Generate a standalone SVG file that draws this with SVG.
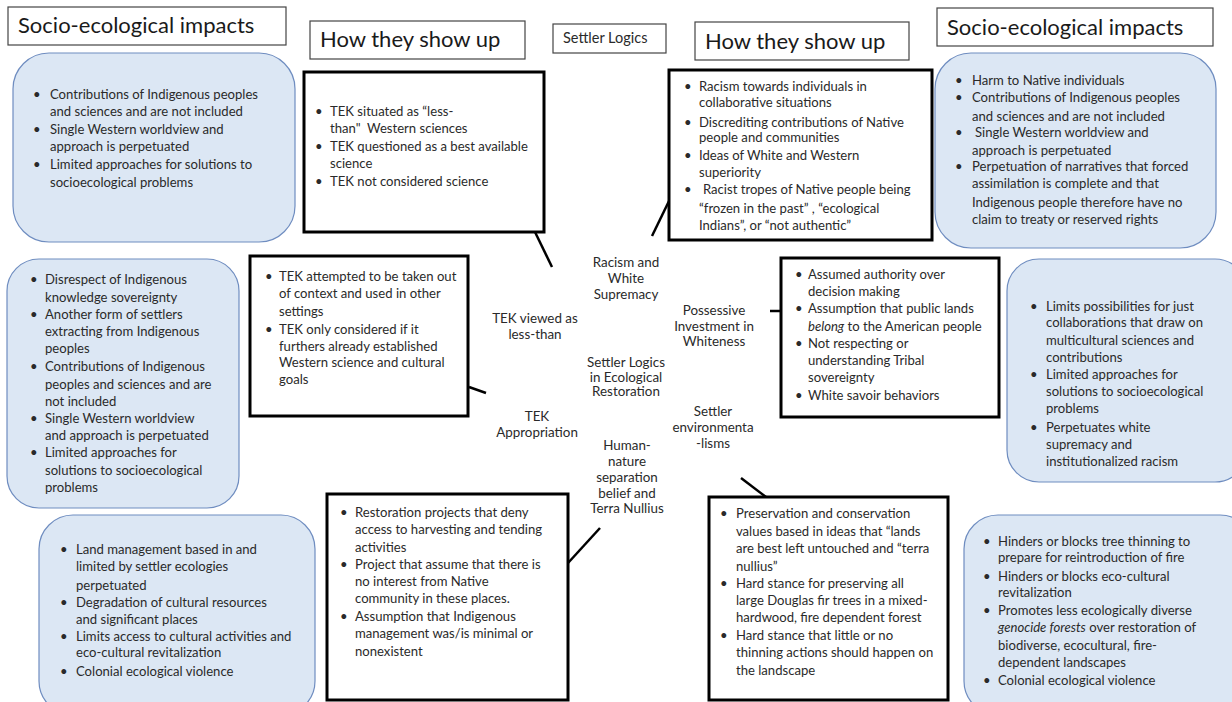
<svg xmlns="http://www.w3.org/2000/svg" width="1232" height="702" viewBox="0 0 1232 702">
<style>
.bg{fill:#ffffff}
.hdr{fill:#ffffff;stroke:#444444;stroke-width:1.2}
.blue{fill:#dce7f4;stroke:#6f8dc0;stroke-width:1.2}
.blk{fill:#ffffff;stroke:#000000;stroke-width:3}
.t{font-family:Lato,"Liberation Sans",sans-serif;font-size:13.1px;fill:#2a2a2a}
.h{font-family:Lato,"Liberation Sans",sans-serif;font-size:22px;fill:#1a1a1a}
.c{font-family:Lato,"Liberation Sans",sans-serif;font-size:13.4px;fill:#2a2a2a;text-anchor:middle}
.conn{stroke:#000000;stroke-width:2.5;fill:none}
</style>
<rect class="bg" x="0" y="0" width="1232" height="702"/>

<!-- headers -->
<g id="hdr-impacts-left"><rect class="hdr" x="8" y="7" width="278" height="38"/><text class="h" x="18" y="33">Socio-ecological impacts</text></g>
<g id="hdr-show-left"><rect class="hdr" x="310" y="21" width="215" height="38"/><text class="h" x="320" y="47">How they show up</text></g>
<g id="hdr-settler"><rect class="hdr" x="553" y="24" width="113" height="29"/><text class="t" x="563" y="43" style="font-size:14.5px">Settler Logics</text></g>
<g id="hdr-show-right"><rect class="hdr" x="695" y="22" width="214" height="38"/><text class="h" x="705" y="49">How they show up</text></g>
<g id="hdr-impacts-right"><rect class="hdr" x="937" y="8" width="276" height="38"/><text class="h" x="947" y="35">Socio-ecological impacts</text></g>

<!-- connectors -->
<g id="connectors">
<line class="conn" x1="535" y1="232" x2="552" y2="267"/>
<line class="conn" x1="670" y1="199" x2="652" y2="236"/>
<line class="conn" x1="469" y1="387" x2="486" y2="393"/>
<line class="conn" x1="770" y1="311" x2="781" y2="311"/>
<line class="conn" x1="568" y1="563" x2="600" y2="528"/>
<line class="conn" x1="741" y1="478" x2="766" y2="497"/>
</g>

<!-- center labels -->
<g id="lbl-center"><text class="c"><tspan x="626" y="367">Settler Logics</tspan><tspan x="626" y="382">in Ecological</tspan><tspan x="626" y="396">Restoration</tspan></text></g>
<g id="lbl-racism"><text class="c"><tspan x="626" y="267">Racism and</tspan><tspan x="626" y="283">White</tspan><tspan x="626" y="299">Supremacy</tspan></text></g>
<g id="lbl-tek-less"><text class="c"><tspan x="535" y="323">TEK viewed as</tspan><tspan x="535" y="339">less-than</tspan></text></g>
<g id="lbl-possessive"><text class="c"><tspan x="714" y="315">Possessive</tspan><tspan x="714" y="331">Investment in</tspan><tspan x="714" y="346">Whiteness</tspan></text></g>
<g id="lbl-tek-approp"><text class="c"><tspan x="537" y="421">TEK</tspan><tspan x="537" y="437">Appropriation</tspan></text></g>
<g id="lbl-settler-env"><text class="c"><tspan x="713" y="416">Settler</tspan><tspan x="713" y="432">environmenta</tspan><tspan x="713" y="448">-lisms</tspan></text></g>
<g id="lbl-human-nature"><text class="c"><tspan x="627" y="450">Human-</tspan><tspan x="627" y="466">nature</tspan><tspan x="627" y="482">separation</tspan><tspan x="627" y="498">belief and</tspan><tspan x="627" y="513">Terra Nullius</tspan></text></g>

<!-- impacts top-left -->
<g id="imp-tl"><rect class="blue" x="13" y="53" width="282" height="189" rx="36"/>
<text class="t"><tspan x="33" y="99">•</tspan><tspan x="33" y="134">•</tspan><tspan x="33" y="169">•</tspan></text>
<text class="t"><tspan x="50" y="99">Contributions of Indigenous peoples</tspan><tspan x="50" y="116">and sciences and are not included</tspan><tspan x="50" y="134">Single Western worldview and</tspan><tspan x="50" y="151">approach is perpetuated</tspan><tspan x="50" y="169">Limited approaches for solutions to</tspan><tspan x="50" y="187">socioecological problems</tspan></text></g>

<!-- show top-left -->
<g id="show-tek-less"><rect class="blk" x="304" y="72" width="240" height="160"/>
<text class="t"><tspan x="315" y="116">•</tspan><tspan x="315" y="151">•</tspan><tspan x="315" y="186">•</tspan></text>
<text class="t"><tspan x="330" y="116">TEK situated as “less-</tspan><tspan x="330" y="133">than"&#160; Western sciences</tspan><tspan x="330" y="151">TEK questioned as a best available</tspan><tspan x="330" y="168">science</tspan><tspan x="330" y="186">TEK not considered science</tspan></text></g>

<!-- show racism -->
<g id="show-racism"><rect class="blk" x="669" y="70" width="263" height="170"/>
<text class="t"><tspan x="684" y="91">•</tspan><tspan x="684" y="127">•</tspan><tspan x="684" y="160">•</tspan><tspan x="684" y="194">•</tspan></text>
<text class="t"><tspan x="699" y="91">Racism towards individuals in</tspan><tspan x="699" y="107">collaborative situations</tspan><tspan x="699" y="127">Discrediting contributions of Native</tspan><tspan x="699" y="142">people and communities</tspan><tspan x="699" y="160">Ideas of White and Western</tspan><tspan x="699" y="177">superiority</tspan><tspan x="703" y="194">Racist tropes of Native people being</tspan><tspan x="699" y="213">“frozen in the past” , “ecological</tspan><tspan x="699" y="230">Indians”, or “not authentic”</tspan></text></g>

<!-- impacts top-right -->
<g id="imp-tr"><rect class="blue" x="935" y="53" width="281" height="195" rx="36"/>
<text class="t"><tspan x="955" y="85">•</tspan><tspan x="955" y="102">•</tspan><tspan x="955" y="137">•</tspan><tspan x="955" y="171">•</tspan></text>
<text class="t"><tspan x="972" y="85">Harm to Native individuals</tspan><tspan x="972" y="102">Contributions of Indigenous peoples</tspan><tspan x="972" y="121">and sciences and are not included</tspan><tspan x="975" y="137">Single Western worldview and</tspan><tspan x="972" y="155">approach is perpetuated</tspan><tspan x="972" y="171">Perpetuation of narratives that forced</tspan><tspan x="972" y="188">assimilation is complete and that</tspan><tspan x="972" y="207">Indigenous people therefore have no</tspan><tspan x="972" y="224">claim to treaty or reserved rights</tspan></text></g>

<!-- impacts mid-left -->
<g id="imp-ml"><rect class="blue" x="7" y="259" width="232" height="249" rx="32"/>
<text class="t"><tspan x="30" y="284">•</tspan><tspan x="30" y="319">•</tspan><tspan x="30" y="371">•</tspan><tspan x="30" y="423">•</tspan><tspan x="30" y="457">•</tspan></text>
<text class="t"><tspan x="45" y="284">Disrespect of Indigenous</tspan><tspan x="45" y="302">knowledge sovereignty</tspan><tspan x="45" y="319">Another form of settlers</tspan><tspan x="45" y="336">extracting from Indigenous</tspan><tspan x="45" y="353">peoples</tspan><tspan x="45" y="371">Contributions of Indigenous</tspan><tspan x="45" y="389">peoples and sciences and are</tspan><tspan x="45" y="406">not included</tspan><tspan x="45" y="423">Single Western worldview</tspan><tspan x="45" y="440">and approach is perpetuated</tspan><tspan x="45" y="457">Limited approaches for</tspan><tspan x="45" y="475">solutions to socioecological</tspan><tspan x="45" y="492">problems</tspan></text></g>

<!-- show TEK appropriation -->
<g id="show-tek-approp"><rect class="blk" x="250" y="256" width="218" height="160"/>
<text class="t"><tspan x="265" y="281">•</tspan><tspan x="265" y="334">•</tspan></text>
<text class="t"><tspan x="279" y="281">TEK attempted to be taken out</tspan><tspan x="279" y="298">of context and used in other</tspan><tspan x="279" y="316">settings</tspan><tspan x="279" y="334">TEK only considered if it</tspan><tspan x="279" y="351">furthers already established</tspan><tspan x="279" y="367">Western science and cultural</tspan><tspan x="279" y="384">goals</tspan></text></g>

<!-- show possessive -->
<g id="show-possessive"><rect class="blk" x="781" y="258" width="218" height="159"/>
<text class="t"><tspan x="795" y="279">•</tspan><tspan x="795" y="313">•</tspan><tspan x="795" y="348">•</tspan><tspan x="795" y="400">•</tspan></text>
<text class="t"><tspan x="808" y="279">Assumed authority over</tspan><tspan x="808" y="296">decision making</tspan><tspan x="808" y="313">Assumption that public lands</tspan><tspan x="808" y="331" font-style="italic">belong</tspan><tspan> to the American people</tspan><tspan x="808" y="348">Not respecting or</tspan><tspan x="808" y="365">understanding Tribal</tspan><tspan x="808" y="382">sovereignty</tspan><tspan x="808" y="400">White savoir behaviors</tspan></text></g>

<!-- impacts mid-right -->
<g id="imp-mr"><rect class="blue" x="1007" y="259" width="240" height="223" rx="32"/>
<text class="t"><tspan x="1030" y="311">•</tspan><tspan x="1030" y="379">•</tspan><tspan x="1030" y="432">•</tspan></text>
<text class="t"><tspan x="1046" y="311">Limits possibilities for just</tspan><tspan x="1046" y="327">collaborations that draw on</tspan><tspan x="1046" y="345">multicultural sciences and</tspan><tspan x="1046" y="362">contributions</tspan><tspan x="1046" y="379">Limited approaches for</tspan><tspan x="1046" y="396">solutions to socioecological</tspan><tspan x="1046" y="413">problems</tspan><tspan x="1046" y="432">Perpetuates white</tspan><tspan x="1046" y="449">supremacy and</tspan><tspan x="1046" y="466">institutionalized racism</tspan></text></g>

<!-- impacts bottom-left -->
<g id="imp-bl"><rect class="blue" x="39" y="515" width="276" height="200" rx="34"/>
<text class="t"><tspan x="60" y="554">•</tspan><tspan x="60" y="607">•</tspan><tspan x="60" y="641">•</tspan><tspan x="60" y="676">•</tspan></text>
<text class="t"><tspan x="76" y="554">Land management based in and</tspan><tspan x="76" y="571">limited by settler ecologies</tspan><tspan x="76" y="590">perpetuated</tspan><tspan x="76" y="607">Degradation of cultural resources</tspan><tspan x="76" y="624">and significant places</tspan><tspan x="76" y="641">Limits access to cultural activities and</tspan><tspan x="76" y="657">eco-cultural revitalization</tspan><tspan x="76" y="676">Colonial ecological violence</tspan></text></g>

<!-- show human-nature -->
<g id="show-human-nature"><rect class="blk" x="327" y="494" width="241" height="206"/>
<text class="t"><tspan x="340" y="517">•</tspan><tspan x="340" y="569">•</tspan><tspan x="340" y="621">•</tspan></text>
<text class="t"><tspan x="355" y="517">Restoration projects that deny</tspan><tspan x="355" y="534">access to harvesting and tending</tspan><tspan x="355" y="552">activities</tspan><tspan x="355" y="569">Project that assume that there is</tspan><tspan x="355" y="586">no interest from Native</tspan><tspan x="355" y="603">community in these places.</tspan><tspan x="355" y="621">Assumption that Indigenous</tspan><tspan x="355" y="638">management was/is minimal or</tspan><tspan x="355" y="656">nonexistent</tspan></text></g>

<!-- show settler env -->
<g id="show-settler-env"><rect class="blk" x="709" y="497" width="239" height="203"/>
<text class="t"><tspan x="720" y="518">•</tspan><tspan x="720" y="588">•</tspan><tspan x="720" y="640">•</tspan></text>
<text class="t"><tspan x="736" y="518">Preservation and conservation</tspan><tspan x="736" y="536">values based in ideas that “lands</tspan><tspan x="736" y="553">are best left untouched and “terra</tspan><tspan x="736" y="571">nullius”</tspan><tspan x="736" y="588">Hard stance for preserving all</tspan><tspan x="736" y="605">large Douglas fir trees in a mixed-</tspan><tspan x="736" y="622">hardwood, fire dependent forest</tspan><tspan x="736" y="640">Hard stance that little or no</tspan><tspan x="736" y="657">thinning actions should happen on</tspan><tspan x="736" y="675">the landscape</tspan></text></g>

<!-- impacts bottom-right -->
<g id="imp-br"><rect class="blue" x="964" y="515" width="290" height="200" rx="34"/>
<text class="t"><tspan x="983" y="546">•</tspan><tspan x="983" y="581">•</tspan><tspan x="983" y="615">•</tspan><tspan x="983" y="685">•</tspan></text>
<text class="t"><tspan x="998" y="546">Hinders or blocks tree thinning to</tspan><tspan x="998" y="562">prepare for reintroduction of fire</tspan><tspan x="998" y="581">Hinders or blocks eco-cultural</tspan><tspan x="998" y="597">revitalization</tspan><tspan x="998" y="615">Promotes less ecologically diverse</tspan><tspan x="998" y="632" font-style="italic">genocide forests</tspan><tspan> over restoration of</tspan><tspan x="998" y="650">biodiverse, ecocultural, fire-</tspan><tspan x="998" y="667">dependent landscapes</tspan><tspan x="998" y="685">Colonial ecological violence</tspan></text></g>
</svg>
